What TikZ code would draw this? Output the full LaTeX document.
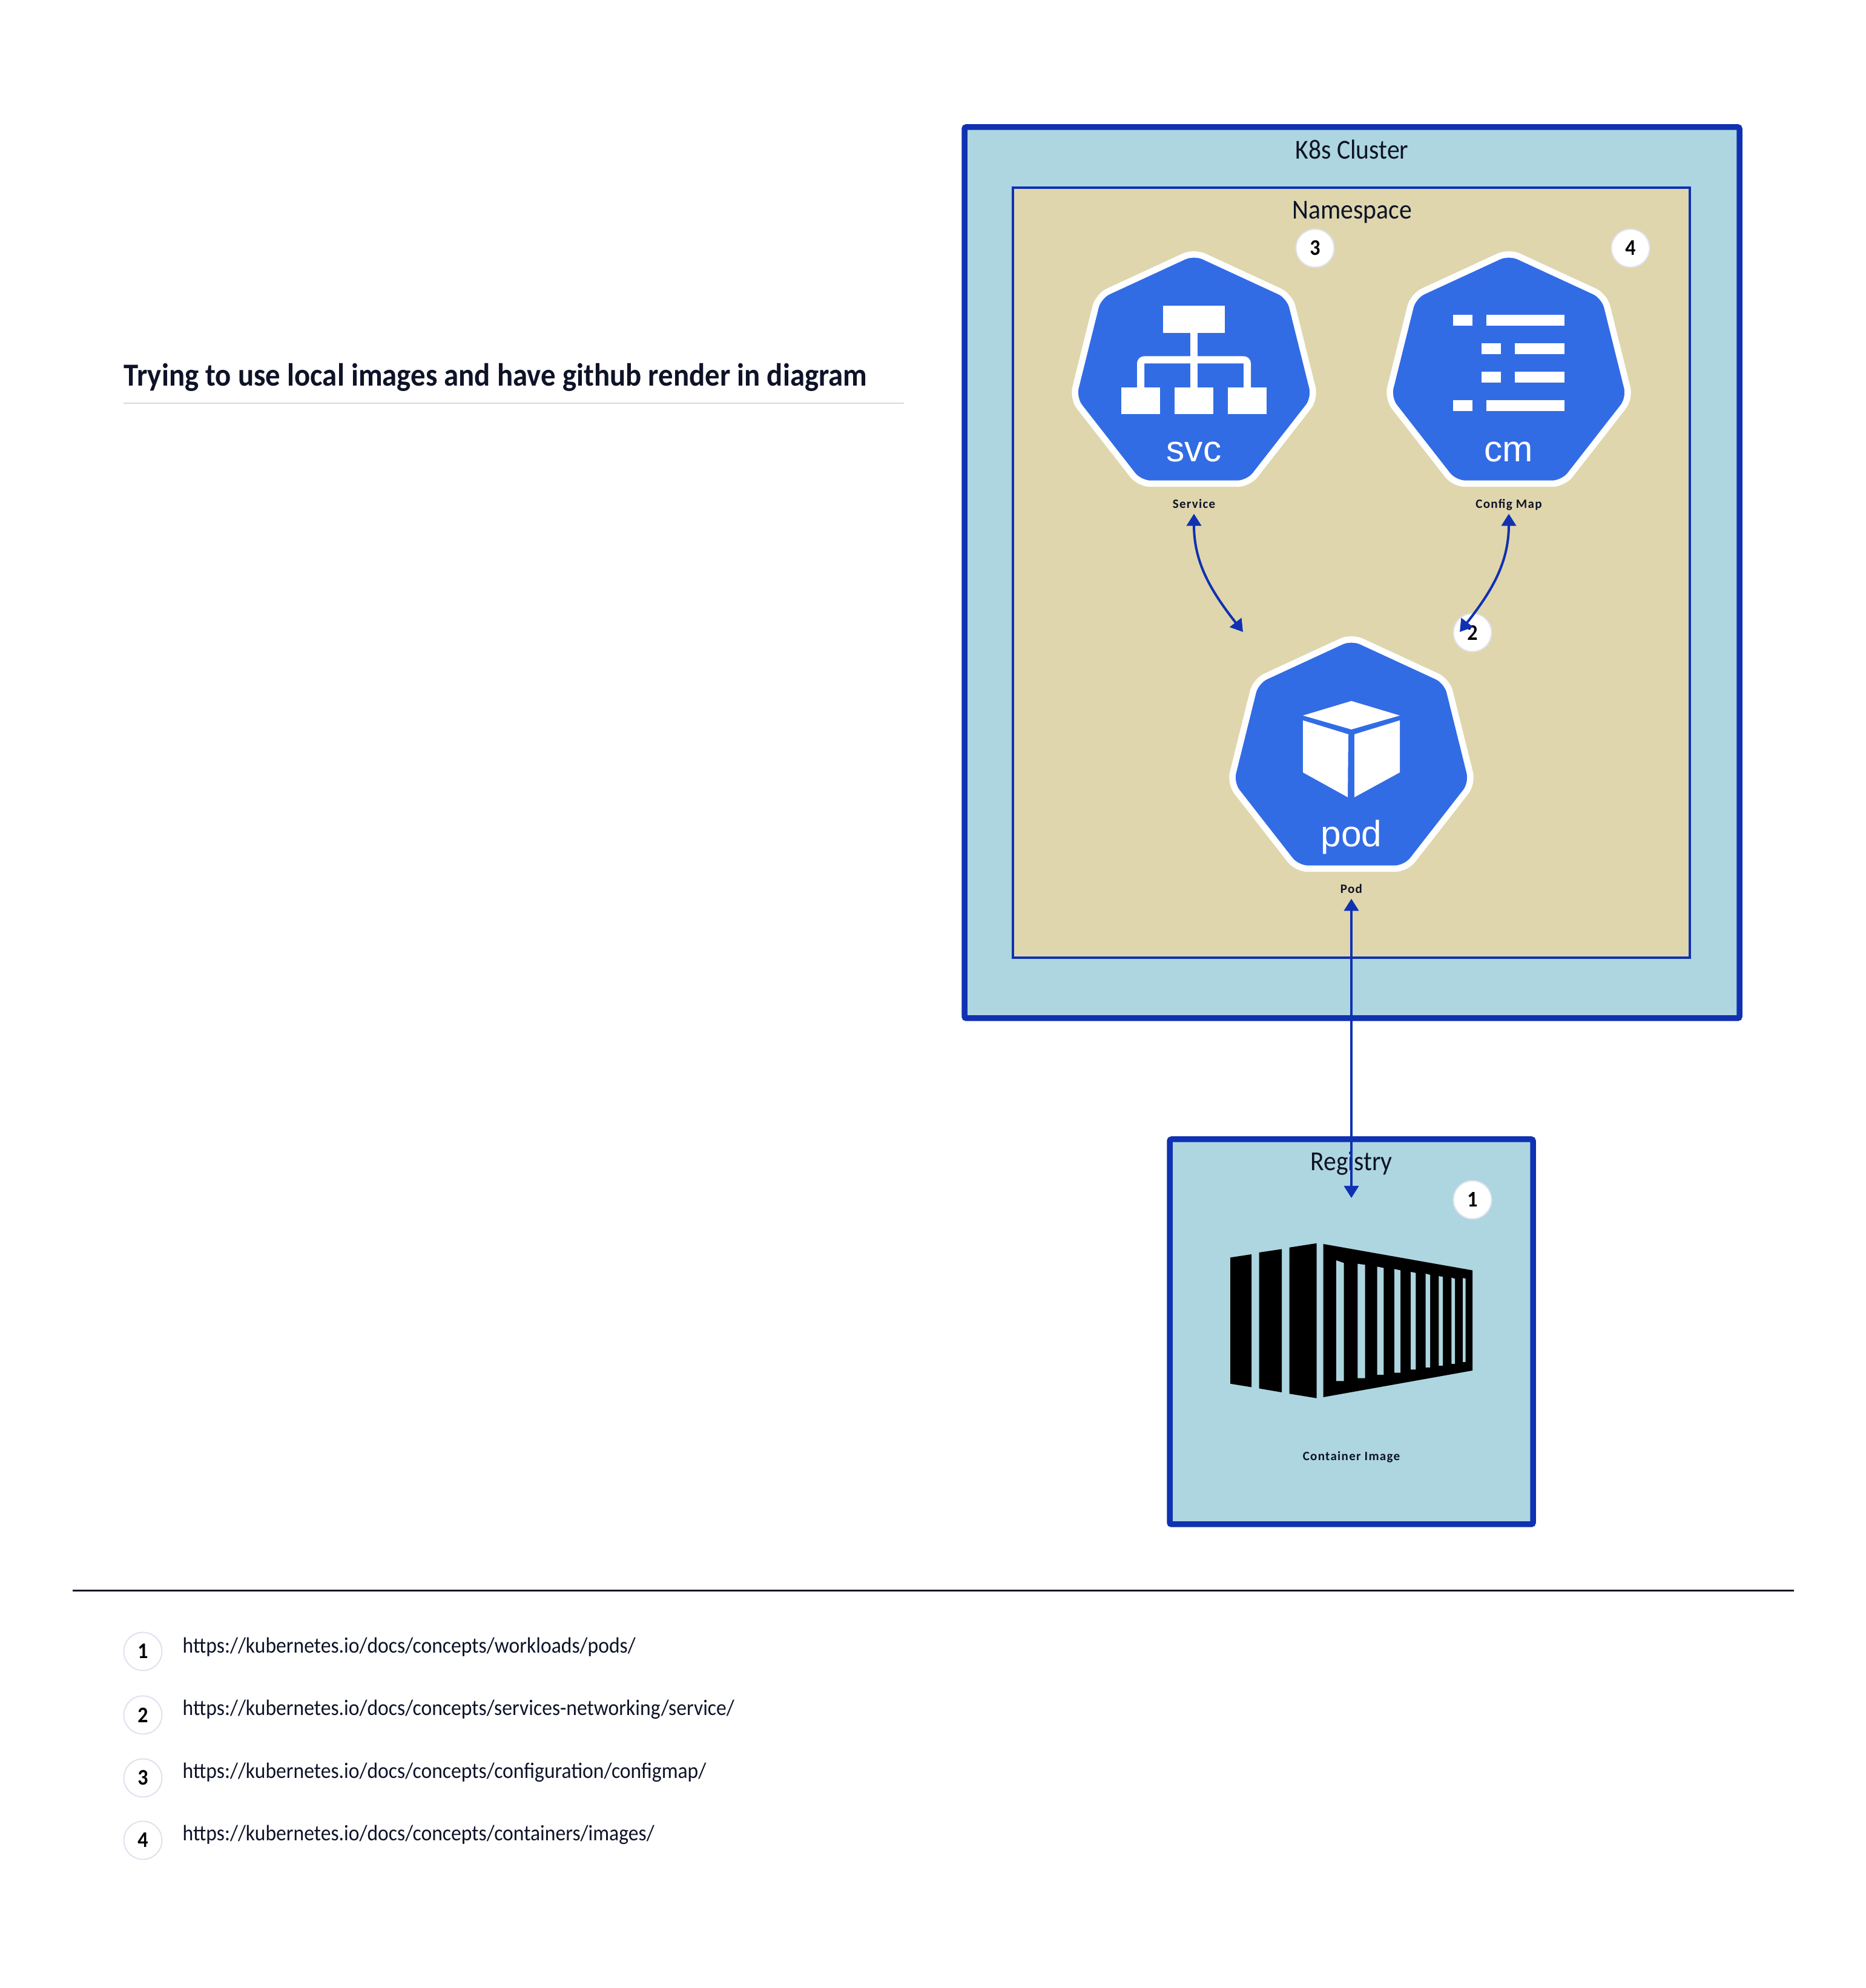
\documentclass[tikz,border=0pt]{standalone}
\usepackage{fontspec}
\setmainfont[FakeStretch=.92]{Carlito}
\newfontfamily\arialfont{Liberation Sans}
\newfontfamily\labelfont[LetterSpace=6]{Carlito}
\usetikzlibrary{arrows.meta}

\definecolor{inkdark}{HTML}{0E1328}
\definecolor{linkblue}{HTML}{0F31B2}
\definecolor{k8sblue}{HTML}{326CE5}
\definecolor{paleblue}{HTML}{ADD6E0}
\definecolor{sand}{HTML}{DFD6AD}
\definecolor{badgeline}{HTML}{DFE2EE}

\tikzset{
  clusterbox/.style={draw=linkblue,fill=paleblue,line width=.095cm,rounded corners=.03cm,inner sep=0pt,outer sep=0pt},
  nsbox/.style={draw=linkblue,fill=sand,line width=.04cm,inner sep=0pt,outer sep=0pt},
  boxtitle/.style={text=inkdark,inner sep=0pt,font=\fontsize{12.9pt}{14pt}\selectfont},
  smalllabel/.style={text=inkdark,text height=.14cm,text depth=.03cm,inner ysep=.055cm,inner xsep=0pt,font=\fontsize{6pt}{7pt}\selectfont\labelfont\bfseries},
  heptalabel/.style={text=white,anchor=base,inner sep=0pt,font=\fontsize{17.2pt}{20pt}\selectfont\arialfont},
  badge/.style={circle,draw=badgeline,fill=white,line width=.02cm,minimum size=.63cm,inner sep=0pt,font=\fontsize{10.5pt}{11pt}\selectfont\bfseries,text=black},
  urltext/.style={anchor=west,text=inkdark,inner sep=0pt,font=\fontsize{10.4pt}{12pt}\selectfont},
  conn/.style={draw=linkblue,line width=.04cm,{Triangle[length=.2cm,width=.24cm]}-{Triangle[length=.2cm,width=.24cm]}},
  hepta/.pic={
    \filldraw[draw=white,fill=k8sblue,line width=.105cm,rounded corners=.18cm]
      (0,2.00) -- (1.58,1.27) -- (2.00,-.42) -- (.90,-1.83) -- (-.90,-1.83) -- (-2.00,-.42) -- (-1.58,1.27) -- cycle;
  }
}

\begin{document}
\begin{tikzpicture}
\useasboundingbox (0,0) rectangle (30.82,32.84);
\fill[white] (0,0) rectangle (30.82,32.84);

% title
\node[anchor=base west,text=inkdark,inner sep=0pt,font=\fontsize{15.1pt}{18pt}\selectfont\bfseries] (title) at (2.04,26.46) {Trying to use local images and have github render in diagram};
\coordinate (titlea) at (2.04,26.18);
\coordinate (titleb) at (14.93,26.18);
\draw[draw=gray!30,line width=.02cm] (titlea) -- (titleb);

% boxes
\node[clusterbox,minimum width=12.80cm,minimum height=14.72cm] (cluster) at (22.33,23.38) {};
\node[boxtitle] (clustertitle) at (22.33,30.37) {K8s Cluster};
\node[nsbox,minimum width=11.18cm,minimum height=12.72cm] (namespace) at (22.32,23.38) {};
\node[boxtitle] (nstitle) at (22.33,29.33) {Namespace};
\node[clusterbox,minimum width=6.00cm,minimum height=6.36cm] (registry) at (22.32,10.84) {};
\node[boxtitle,anchor=base] (regtitle) at (22.32,13.50) {Registry};

% service
\begin{scope}[shift={(19.72,26.68)}]
\pic {hepta};
\fill[white] (-.51,1.11) rectangle (.51,.655);
\draw[white,line width=.12cm] (0,.655) -- (0,-.24);
\draw[white,line width=.12cm,rounded corners=.06cm] (-.88,-.24) -- (-.88,.215) -- (.88,.215) -- (.88,-.24);
\foreach \x in {-.88,0,.88}
  \fill[white] (\x-.32,-.24) rectangle (\x+.32,-.685);
\node[heptalabel] (svctext) at (0,-1.47) {svc};
\end{scope}
\node[smalllabel] (svclabel) at (19.72,24.50) {Service};

% config map
\begin{scope}[shift={(24.92,26.68)}]
\pic {hepta};
\foreach \y/\a in {.96/-.92,.49/-.45,.02/-.45,-.45/-.92}{
  \fill[white] (\a,\y) rectangle (\a+.32,\y-.18);
  \fill[white] (\a+.55,\y) rectangle (.92,\y-.18);
}
\node[heptalabel] (cmtext) at (0,-1.47) {cm};
\end{scope}
\node[smalllabel] (cmlabel) at (24.92,24.50) {Config Map};

% pod
\begin{scope}[shift={(22.32,20.32)}]
\pic {hepta};
\fill[white] (-.80,.70) -- (0,.94) -- (.80,.70) -- (0,.47) -- cycle;
\fill[white] (-.80,.62) -- (-.05,.39) -- (-.06,-.65) -- (-.80,-.24) -- cycle;
\fill[white] (.05,.39) -- (.80,.62) -- (.80,-.24) -- (.05,-.65) -- cycle;
\node[heptalabel] (podtext) at (0,-1.47) {pod};
\end{scope}
\node[smalllabel] (podlabel) at (22.32,18.14) {Pod};

% container
\begin{scope}[shift={(22.32,11.04)}]
\foreach \xa/\xb/\ya/\yb/\yc/\yd in {-1.999/-1.65/1.027/1.08/-1.115/-1.058,-1.525/-1.15/1.11/1.166/-1.20/-1.136,-1.025/-.575/1.192/1.262/-1.297/-1.223}
  \fill[black] (\xa,\ya) -- (\xb,\yb) -- (\xb,\yc) -- (\xa,\yd) -- cycle;
\fill[black] (-.463,1.25) -- (2.00,.815) -- (2.00,-.84) -- (-.463,-1.28) -- cycle;
\foreach \xa/\xb/\ya/\yb/\yc in {-.25/-.124/.98/.936/-1.015,.104/.225/.923/.906/-.967,.425/.533/.876/.854/-.91,.71/.81/.837/.815/-.876,.98/1.064/.79/.772/-.824,1.225/1.30/.76/.741/-.79,1.443/1.51/.72/.707/-.76,1.653/1.71/.694/.676/-.729,1.84/1.885/.687/.68/-.698}
  \fill[paleblue] (\xa,\ya) -- (\xb,\yb) -- (\xb,\yc) -- (\xa,\yc) -- cycle;
\end{scope}
\node[smalllabel] (imglabel) at (22.32,8.77) {Container Image};

% badges on the diagram
\node[badge] (badge3) at (21.72,28.74) {3};
\node[badge] (badge4) at (26.93,28.74) {4};
\node[badge] (badge2) at (24.32,22.39) {2};
\node[badge] (badge1) at (24.32,13.02) {1};

% connectors
\coordinate (svcend) at (20.53,22.40);
\coordinate (cmend) at (24.11,22.40);
\coordinate (regend) at (22.32,13.05);
\draw[conn] (svclabel.south) to[out=-90,in=128] (svcend);
\draw[conn] (cmlabel.south) to[out=-90,in=52] (cmend);
\draw[conn] (podlabel.south) -- (regend);

% legend
\coordinate (rulea) at (1.20,6.565);
\coordinate (ruleb) at (29.63,6.565);
\draw[draw=inkdark,line width=.025cm] (rulea) -- (ruleb);
\node[badge] (leg1) at (2.36,5.56) {1};
\node[badge] (leg2) at (2.36,4.51) {2};
\node[badge] (leg3) at (2.36,3.47) {3};
\node[badge] (leg4) at (2.36,2.44) {4};
\node[urltext] (url1) at (3.01,5.63) {https://kubernetes.io/docs/concepts/workloads/pods/};
\node[urltext] (url2) at (3.01,4.60) {https://kubernetes.io/docs/concepts/services-networking/service/};
\node[urltext] (url3) at (3.01,3.56) {https://kubernetes.io/docs/concepts/configuration/configmap/};
\node[urltext] (url4) at (3.01,2.53) {https://kubernetes.io/docs/concepts/containers/images/};
\end{tikzpicture}
\end{document}
